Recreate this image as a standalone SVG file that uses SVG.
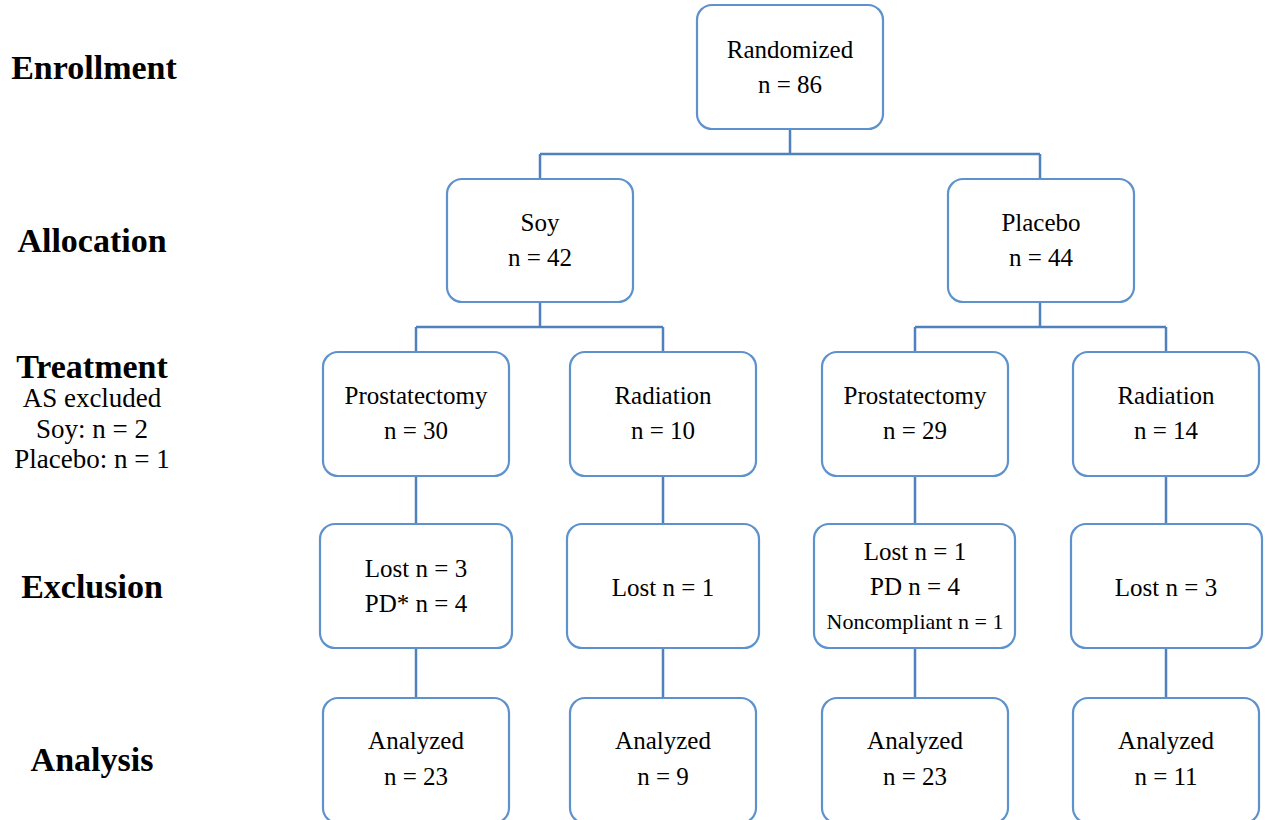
<svg xmlns="http://www.w3.org/2000/svg" width="1267" height="820" viewBox="0 0 1267 820">
<style>
.box{fill:#fff;stroke:#5E92CC;stroke-width:2.2}
.ln{fill:none;stroke:#4F81BD;stroke-width:2.5}
text{font-family:"Liberation Serif","Times New Roman",serif;fill:#000;text-anchor:middle}
.t{font-size:25px}
.s{font-size:22px}
.h{font-size:34px;font-weight:bold}
.l{font-size:27px}
</style>
<rect width="1267" height="820" fill="#fff"/>
<g id="stage-labels">
<text class="h" x="94" y="79">Enrollment</text>
<text class="h" x="92" y="252">Allocation</text>
<text class="h" x="92" y="378">Treatment</text>
<text class="l" x="92" y="407">AS excluded</text>
<text class="l" x="92" y="438">Soy: n = 2</text>
<text class="l" x="92" y="468">Placebo: n = 1</text>
<text class="h" x="92" y="598">Exclusion</text>
<text class="h" x="92" y="771">Analysis</text>
</g>
<g id="connectors">
<path class="ln" d="M790 129V154M540 154H1040M540 154V179M1040 154V179"/>
<path class="ln" d="M540 302V327M416 327H663M416 327V352M663 327V352"/>
<path class="ln" d="M1040 302V327M915 327H1166M915 327V352M1166 327V352"/>
<path class="ln" d="M416 476V524M663 476V524M915 476V524M1166 476V524"/>
<path class="ln" d="M416 648V698M663 648V698M915 648V698M1166 648V698"/>
</g>
<g id="randomized">
<rect class="box" x="697" y="5" width="186" height="124" rx="15"/>
<text class="t" x="790" y="58">Randomized</text>
<text class="t" x="790" y="93">n = 86</text>
</g>
<g id="soy">
<rect class="box" x="447" y="179" width="186" height="123" rx="15"/>
<text class="t" x="540" y="231">Soy</text>
<text class="t" x="540" y="266">n = 42</text>
</g>
<g id="placebo">
<rect class="box" x="948" y="179" width="186" height="123" rx="15"/>
<text class="t" x="1041" y="231">Placebo</text>
<text class="t" x="1041" y="266">n = 44</text>
</g>
<g id="soy-prostatectomy">
<rect class="box" x="323" y="352" width="186" height="124" rx="15"/>
<text class="t" x="416" y="404">Prostatectomy</text>
<text class="t" x="416" y="439">n = 30</text>
</g>
<g id="soy-radiation">
<rect class="box" x="570" y="352" width="186" height="124" rx="15"/>
<text class="t" x="663" y="404">Radiation</text>
<text class="t" x="663" y="439">n = 10</text>
</g>
<g id="placebo-prostatectomy">
<rect class="box" x="822" y="352" width="186" height="124" rx="15"/>
<text class="t" x="915" y="404">Prostatectomy</text>
<text class="t" x="915" y="439">n = 29</text>
</g>
<g id="placebo-radiation">
<rect class="box" x="1073" y="352" width="186" height="124" rx="15"/>
<text class="t" x="1166" y="404">Radiation</text>
<text class="t" x="1166" y="439">n = 14</text>
</g>
<g id="soy-prostatectomy-exclusion">
<rect class="box" x="320" y="524" width="192" height="124" rx="15"/>
<text class="t" x="416" y="577">Lost n = 3</text>
<text class="t" x="416" y="612">PD* n = 4</text>
</g>
<g id="soy-radiation-exclusion">
<rect class="box" x="567" y="524" width="192" height="124" rx="15"/>
<text class="t" x="663" y="596">Lost n = 1</text>
</g>
<g id="placebo-prostatectomy-exclusion">
<rect class="box" x="814" y="524" width="201" height="124" rx="15"/>
<text class="t" x="915" y="560">Lost n = 1</text>
<text class="t" x="915" y="595">PD n = 4</text>
<text class="s" x="915" y="629">Noncompliant n = 1</text>
</g>
<g id="placebo-radiation-exclusion">
<rect class="box" x="1071" y="524" width="191" height="124" rx="15"/>
<text class="t" x="1166" y="596">Lost n = 3</text>
</g>
<g id="soy-prostatectomy-analysis">
<rect class="box" x="323" y="698" width="186" height="125" rx="15"/>
<text class="t" x="416" y="749">Analyzed</text>
<text class="t" x="416" y="785">n = 23</text>
</g>
<g id="soy-radiation-analysis">
<rect class="box" x="570" y="698" width="186" height="125" rx="15"/>
<text class="t" x="663" y="749">Analyzed</text>
<text class="t" x="663" y="785">n = 9</text>
</g>
<g id="placebo-prostatectomy-analysis">
<rect class="box" x="822" y="698" width="186" height="125" rx="15"/>
<text class="t" x="915" y="749">Analyzed</text>
<text class="t" x="915" y="785">n = 23</text>
</g>
<g id="placebo-radiation-analysis">
<rect class="box" x="1073" y="698" width="186" height="125" rx="15"/>
<text class="t" x="1166" y="749">Analyzed</text>
<text class="t" x="1166" y="785">n = 11</text>
</g>
</svg>
